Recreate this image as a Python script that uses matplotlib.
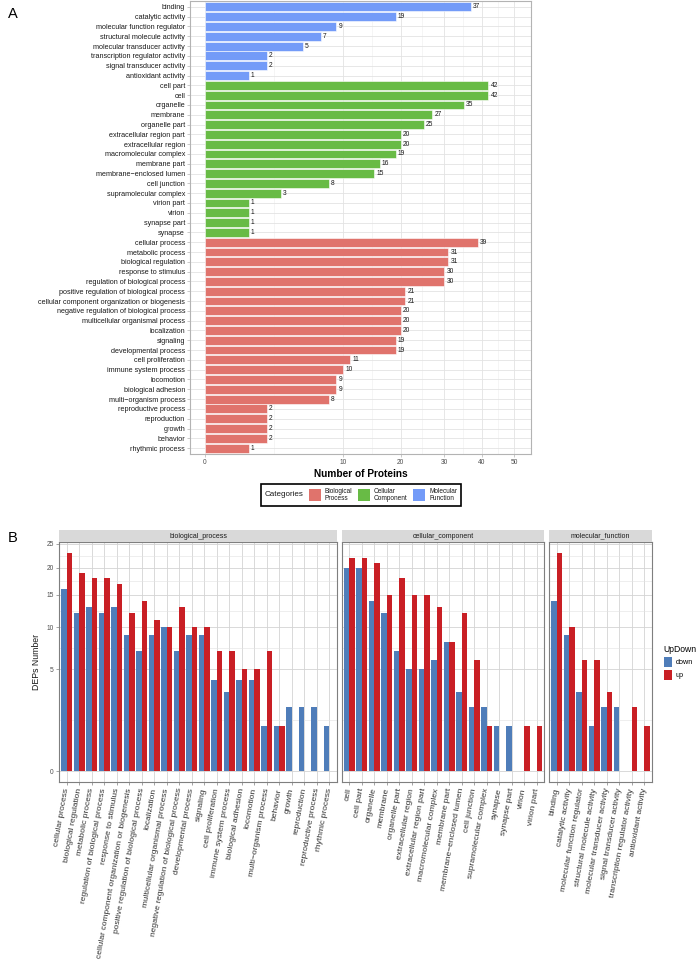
import numpy as np
import matplotlib
matplotlib.use("Agg")
import matplotlib.pyplot as plt
from matplotlib.patches import Rectangle, Patch
from matplotlib.offsetbox import AnchoredOffsetbox, HPacker, TextArea, DrawingArea

plt.rcParams['font.family'] = ['Liberation Sans', 'DejaVu Sans']

# ---- Panel A data (top to bottom) ----
mf_terms = ["binding", "catalytic activity", "molecular function regulator",
            "structural molecule activity", "molecular transducer activity",
            "transcription regulator activity", "signal transducer activity",
            "antioxidant activity"]
mf_counts = [37, 19, 9, 7, 5, 2, 2, 1]

cc_terms = ["cell part", "cell", "organelle", "membrane", "organelle part",
            "extracellular region part", "extracellular region",
            "macromolecular complex", "membrane part", "membrane\u2212enclosed lumen",
            "cell junction", "supramolecular complex", "virion part", "virion",
            "synapse part", "synapse"]
cc_counts = [42, 42, 35, 27, 25, 20, 20, 19, 16, 15, 8, 3, 1, 1, 1, 1]

bp_terms = ["cellular process", "metabolic process", "biological regulation",
            "response to stimulus", "regulation of biological process",
            "positive regulation of biological process",
            "cellular component organization or biogenesis",
            "negative regulation of biological process",
            "multicellular organismal process", "localization", "signaling",
            "developmental process", "cell proliferation", "immune system process",
            "locomotion", "biological adhesion", "multi\u2212organism process",
            "reproductive process", "reproduction", "growth", "behavior",
            "rhythmic process"]
bp_counts = [39, 31, 31, 30, 30, 21, 21, 20, 20, 20, 19, 19, 11, 10, 9, 9, 8,
             2, 2, 2, 2, 1]

cat_labels = ["Biological\nProcess", "Cellular\nComponent", "Molecular\nFunction"]
cat_colors = ["#E0736C", "#68BB45", "#739BF8"]

# ---- Panel B data ----
bp_b_terms = ["cellular process", "biological regulation", "metabolic process",
              "regulation of biological process", "response to stimulus",
              "cellular component organization or biogenesis",
              "positive regulation of biological process", "localization",
              "multicellular organismal process",
              "negative regulation of biological process", "developmental process",
              "signaling", "cell proliferation", "immune system process",
              "biological adhesion", "locomotion", "multi\u2212organism process",
              "behavior", "growth", "reproduction", "reproductive process",
              "rhythmic process"]
bp_down = [16, 12, 13, 12, 13, 9, 7, 9, 10, 7, 9, 9, 4, 3, 4, 4, 1, 1, 2, 2, 2, 1]
bp_up = [23, 19, 18, 18, 17, 12, 14, 11, 10, 13, 10, 10, 7, 7, 5, 5, 7, 1, 0, 0, 0, 0]

cc_b_terms = ["cell", "cell part", "organelle", "membrane", "organelle part",
              "extracellular region", "extracellular region part",
              "macromolecular complex", "membrane part",
              "membrane\u2212enclosed lumen", "cell junction",
              "supramolecular complex", "synapse", "synapse part", "virion",
              "virion part"]
cc_down = [20, 20, 14, 12, 7, 5, 5, 6, 8, 3, 2, 2, 1, 1, 0, 0]
cc_up = [22, 22, 21, 15, 18, 15, 15, 13, 8, 12, 6, 1, 0, 0, 1, 1]

mf_b_terms = ["binding", "catalytic activity", "molecular function regulator",
              "structural molecule activity", "molecular transducer activity",
              "signal transducer activity", "transcription regulator activity",
              "antioxidant activity"]
mf_down = [14, 9, 3, 1, 2, 2, 0, 0]
mf_up = [23, 10, 6, 6, 3, 0, 2, 1]

facet_names = ["biological_process", "cellular_component", "molecular_function"]
updown_colors = {"down": "#4F7DB9", "up": "#C91F25"}

W, H = 698, 960


def sqrt_fwd(x):
    x = np.asarray(x, dtype=float)
    return np.sign(x) * np.sqrt(np.abs(x))


def sqrt_inv(x):
    x = np.asarray(x, dtype=float)
    return np.sign(x) * x ** 2


def minor_mid(major):
    s = np.sqrt(major)
    return ((s[:-1] + s[1:]) / 2) ** 2


def px_axes(left, top, right, bottom):
    return [left / W, 1 - bottom / H, (right - left) / W, (bottom - top) / H]


fig = plt.figure(figsize=(W / 100, H / 100), dpi=100)

# ================= Panel A =================
terms = mf_terms + cc_terms + bp_terms
counts = mf_counts + cc_counts + bp_counts
colors = ([cat_colors[2]] * len(mf_terms) + [cat_colors[1]] * len(cc_terms)
          + [cat_colors[0]] * len(bp_terms))
ypos = np.arange(len(terms))

axA = fig.add_axes(px_axes(190, 1, 531, 454))
axA.set_xscale('function', functions=(sqrt_fwd, sqrt_inv))
axA.barh(ypos, counts, height=0.9, color=colors, edgecolor='white', linewidth=0.4, zorder=3)
for y, v in zip(ypos, counts):
    axA.annotate(str(v), (v, y), xytext=(1.5, 0), textcoords='offset points',
                 va='center', ha='left', fontsize=4.8, color='#1A1A1A', zorder=4)
axA.set_ylim(len(terms) - 0.4, -0.6)
axA.set_xlim(-0.118, 55.6)
majA = np.array([0, 10, 20, 30, 40, 50])
axA.set_xticks(majA)
axA.set_xticks(minor_mid(majA), minor=True)
axA.set_yticks(ypos)
axA.set_yticklabels(terms)
axA.tick_params(axis='y', labelsize=5.2, length=2, width=0.5, color='#B3B3B3',
                pad=1.5, labelcolor='#1A1A1A')
axA.tick_params(axis='x', labelsize=4.8, length=2, width=0.5, color='#B3B3B3',
                pad=1.5, labelcolor='#4D4D4D')
axA.tick_params(axis='x', which='minor', length=0)
axA.grid(True, which='major', color='#E3E3E3', linewidth=0.6, zorder=0)
axA.grid(True, which='minor', axis='x', color='#EEEEEE', linewidth=0.4, zorder=0)
axA.set_axisbelow(True)
for sp in axA.spines.values():
    sp.set_color('#B3B3B3')
    sp.set_linewidth(0.8)
axA.set_xlabel("Number of Proteins", fontsize=7.3, fontweight='bold', labelpad=2)

# Categories legend (horizontal, title at left)
items = [TextArea("Categories", textprops=dict(fontsize=5.8, color='#1A1A1A'))]
for lab, col in zip(cat_labels, cat_colors):
    da = DrawingArea(8.6, 8.6, 0, 0)
    da.add_artist(Rectangle((0, 0), 8.6, 8.6, facecolor=col, edgecolor='none'))
    ta = TextArea(lab, textprops=dict(fontsize=4.7, linespacing=0.95, color='#1A1A1A'))
    items.append(HPacker(children=[da, ta], sep=3.2, align='center', pad=0))
box = HPacker(children=items, sep=3.6, align='center', pad=0)
leg_box = AnchoredOffsetbox(loc='center', child=box, pad=0.3, frameon=True,
                            bbox_to_anchor=(361 / W, 1 - 495 / H),
                            bbox_transform=fig.transFigure, borderpad=0)
leg_box.patch.set_edgecolor('black')
leg_box.patch.set_linewidth(1.2)
leg_box.patch.set_boxstyle('square', pad=0)
fig.add_artist(leg_box)

# ================= Panel B =================
facets = [(bp_b_terms, bp_down, bp_up), (cc_b_terms, cc_down, cc_up),
          (mf_b_terms, mf_down, mf_up)]
unit, gap, x0 = 12.5, 5.0, 59.3
top, bottom, strip_h = 542, 782, 12
majB = np.array([0, 5, 10, 15, 20, 25])
left = x0
for k, (name, (cats, dn, up)) in enumerate(zip(facet_names, facets)):
    n = len(cats)
    width = (n + 0.2) * unit
    ax = fig.add_axes(px_axes(left, top, left + width, bottom))
    ax.set_yscale('function', functions=(sqrt_fwd, sqrt_inv))
    x = np.arange(n)
    ax.bar(x - 0.225, dn, 0.45, color=updown_colors["down"], linewidth=0, zorder=3)
    ax.bar(x + 0.225, up, 0.45, color=updown_colors["up"], linewidth=0, zorder=3)
    ax.set_xlim(-0.6, n - 0.4)
    ax.set_ylim(-0.0576, 25.36)
    ax.set_yticks(majB)
    ax.set_yticks(minor_mid(majB), minor=True)
    ax.set_xticks(x)
    ax.set_xticklabels(cats, rotation=80, ha='right', va='center',
                       rotation_mode='anchor', fontsize=6.0, color='#333333')
    ax.tick_params(axis='x', length=2.5, width=0.5, color='#7F7F7F', pad=2)
    ax.tick_params(axis='y', which='major', length=2.5, width=0.5, color='#7F7F7F',
                   labelsize=4.8, labelcolor='#4D4D4D', pad=1.5)
    ax.tick_params(axis='y', which='minor', length=0)
    if k > 0:
        ax.tick_params(axis='y', which='major', length=0, labelleft=False)
    ax.grid(True, which='major', color='#D3D3D3', linewidth=0.6, zorder=0)
    ax.grid(True, which='minor', axis='y', color='#E2E2E2', linewidth=0.4, zorder=0)
    ax.set_axisbelow(True)
    for sp in ax.spines.values():
        sp.set_color('#7F7F7F')
        sp.set_linewidth(0.8)
    if k == 0:
        ax.set_ylabel("DEPs Number", fontsize=6.3, color='#1A1A1A', labelpad=4)
    sax = fig.add_axes(px_axes(left, top - strip_h, left + width, top))
    sax.set_facecolor('#D9D9D9')
    sax.set_xticks([])
    sax.set_yticks([])
    for sp in sax.spines.values():
        sp.set_visible(False)
    sax.text(0.5, 0.5, name, ha='center', va='center', fontsize=5.0,
             color='#1A1A1A', transform=sax.transAxes)
    left += width + gap

handles = [Patch(facecolor=updown_colors["down"]), Patch(facecolor=updown_colors["up"])]
legB = fig.legend(handles, ["down", "up"], title="UpDown", loc='upper left',
                  bbox_to_anchor=(660 / W, 1 - 641 / H), frameon=False,
                  fontsize=5.2, title_fontsize=6.2, handlelength=1.1,
                  handleheight=1.7, labelspacing=0.45, handletextpad=0.6,
                  borderpad=0, alignment='left')

fig.text(8 / W, 1 - 14 / H, "A", fontsize=10.5, va='center', ha='left')
fig.text(8 / W, 1 - 538 / H, "B", fontsize=10.5, va='center', ha='left')

fig.savefig("out.png", dpi=100)
